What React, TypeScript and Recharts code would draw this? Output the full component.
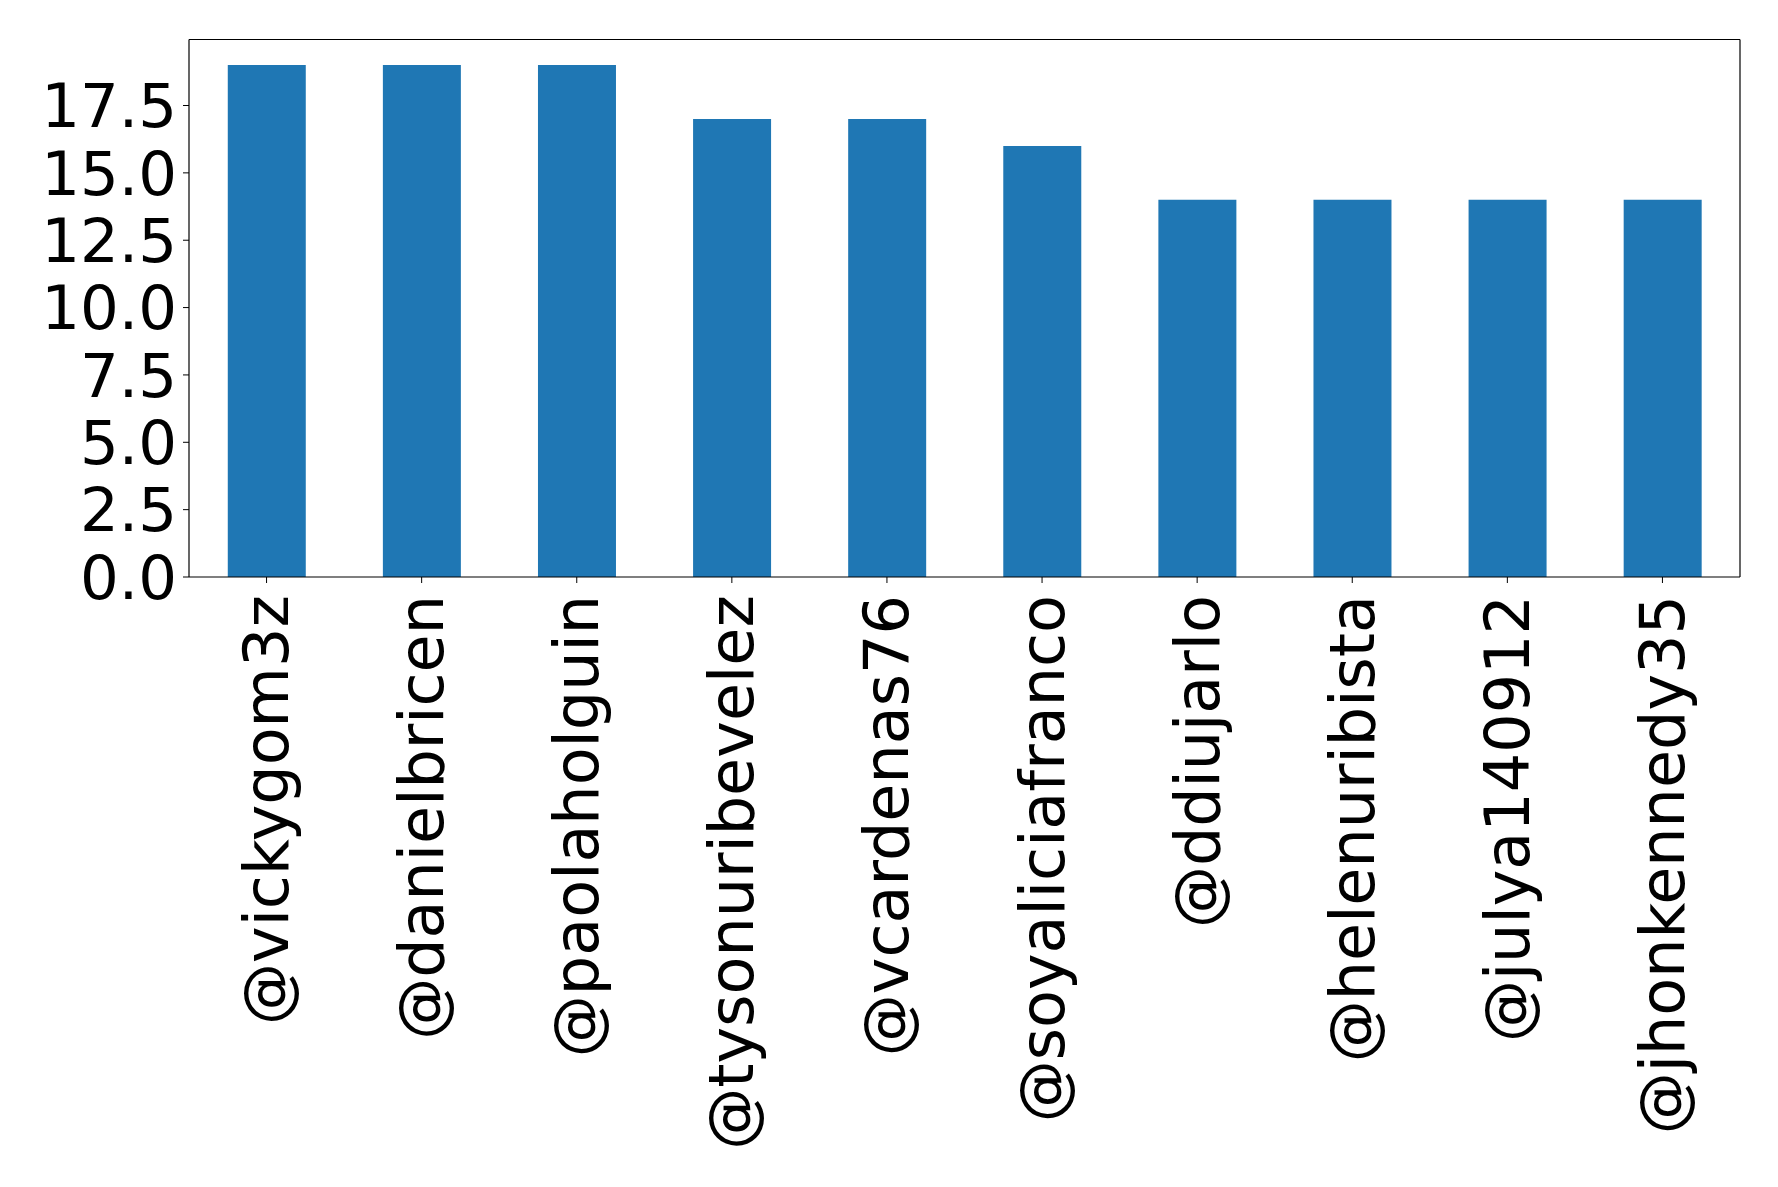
import React from "react";
import { BarChart, Bar, XAxis, YAxis, CartesianGrid } from "recharts";

const users = [
  "@vickygom3z",
  "@danielbricen",
  "@paolaholguin",
  "@tysonuribevelez",
  "@vcardenas76",
  "@soyaliciafranco",
  "@ddiujarlo",
  "@helenuribista",
  "@julya140912",
  "@jhonkennedy35",
];
const counts = [19, 19, 19, 17, 17, 16, 14, 14, 14, 14];
const yTicks = [0, 2.5, 5, 7.5, 10, 12.5, 15, 17.5];

const data = users.map((u, i) => ({ name: u, value: counts[i] }));

const FONT = "DejaVu Sans, sans-serif";

const XTick = (props: any) => {
  const { x, y, payload } = props;
  const ty = y + 10;
  return (
    <text
      x={x}
      y={ty}
      transform={`rotate(-90, ${x}, ${ty})`}
      textAnchor="end"
      dominantBaseline="central"
      fontFamily={FONT}
      fontSize={62}
      fill="#000"
    >
      {payload.value}
    </text>
  );
};

export default function App() {
  return (
    <BarChart
      width={1770}
      height={1179}
      data={data}
      margin={{ top: 31.5, right: 38, left: 0, bottom: 10 }}
      barCategoryGap="25%"
    >
      <CartesianGrid
        stroke="#000"
        strokeWidth={1.2}
        horizontalCoordinatesGenerator={(p: any) => [p.offset.top]}
        verticalCoordinatesGenerator={(p: any) => [p.offset.left + p.offset.width]}
      />
      <XAxis
        dataKey="name"
        interval={0}
        height={600}
        tick={<XTick />}
        tickSize={6}
        axisLine={{ stroke: "#000", strokeWidth: 1.2 }}
        tickLine={{ stroke: "#000" }}
      />
      <YAxis
        width={181}
        domain={[0, 19.95]}
        ticks={yTicks}
        interval={0}
        tickFormatter={(v: number) => v.toFixed(1)}
        tickSize={6}
        tickMargin={6}
        tick={{ fontFamily: FONT, fontSize: 61, fill: "#000" }}
        axisLine={{ stroke: "#000", strokeWidth: 1.2 }}
        tickLine={{ stroke: "#000" }}
        allowDataOverflow
      />
      <Bar dataKey="value" fill="#1f77b4" isAnimationActive={false} />
    </BarChart>
  );
}
